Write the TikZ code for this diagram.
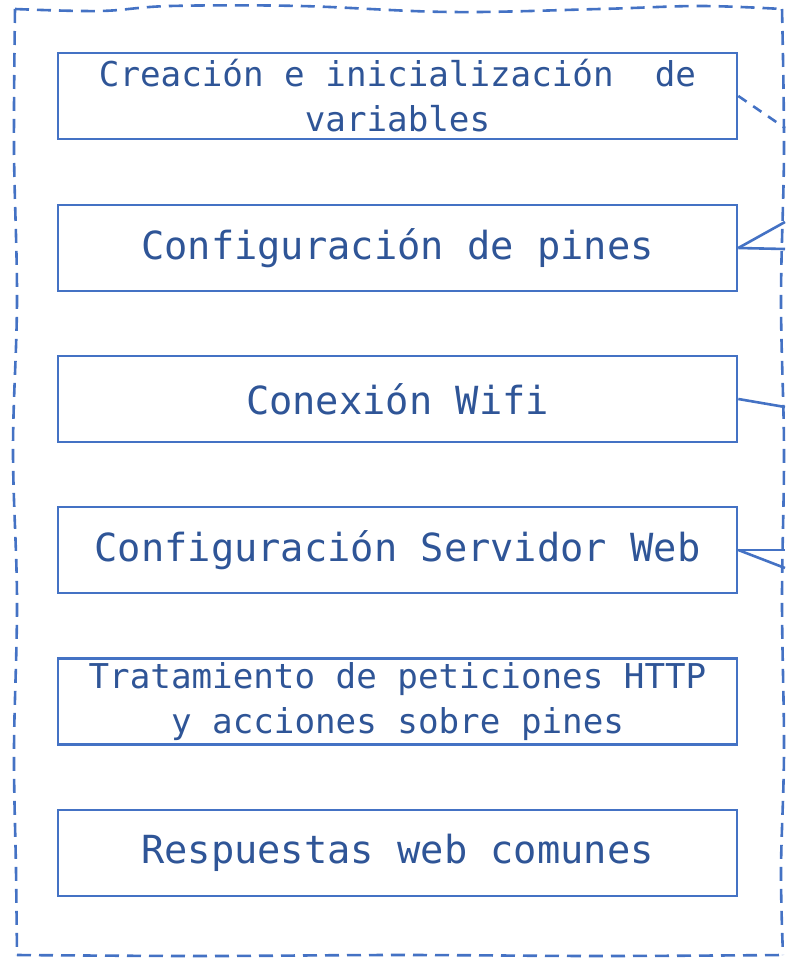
\documentclass[tikz,border=0pt]{standalone}
\usepackage{fontspec}
\setmonofont{DejaVu Sans Mono}
\definecolor{boxline}{HTML}{4472C4}
\definecolor{boxtext}{HTML}{2F5597}
\begin{document}
\begin{tikzpicture}[x=1pt,y=-1pt,
  stage/.style={draw=boxline, line width=2.6pt, fill=white, text=boxtext,
    minimum width=679pt, minimum height=86pt, inner sep=0pt, align=center,
    font=\ttfamily\fontsize{38.7}{46}\selectfont},
  smallstage/.style={stage, font=\ttfamily\fontsize{34.2}{45}\selectfont},
  link/.style={draw=boxline, line width=2.6pt},
  frame/.style={draw=boxline, line width=2.6pt, dash pattern=on 14pt off 8pt}]
\useasboundingbox (0,0) rectangle (785,958);

% wavy dashed enclosure
\draw[frame] plot[smooth, tension=0.6] coordinates {
  (15,9) (100,11) (170,6) (300,6) (450,12) (600,9) (700,6) (782,9)};
\draw[frame] plot[smooth, tension=0.6] coordinates {
  (15,9) (14,150) (17,300) (13,450) (17,600) (14,750) (16,870) (17,955)};
\draw[frame] plot[smooth, tension=0.6] coordinates {
  (17,955) (200,956) (400,955) (600,956) (783,955)};
\draw[frame] plot[smooth, tension=0.6] coordinates {
  (782,9) (784,150) (781,300) (784,450) (782,600) (784,750) (781,870) (783,955)};

% stages
\node[smallstage] (s1) at (397.5,96) {Creación e inicialización\ \ de\\variables};
\node[stage] (s2) at (397.5,248) {Configuración de pines};
\node[stage] (s3) at (397.5,399) {Conexión Wifi};
\node[stage] (s4) at (397.5,550) {Configuración Servidor Web};
\node[smallstage] (s5) at (397.5,701.5) {Tratamiento de peticiones HTTP\\y acciones sobre pines};
\node[stage] (s6) at (397.5,853) {Respuestas web comunes};

% outgoing connectors
\coordinate (e1) at (785,128);
\coordinate (e2a) at (785,222);
\coordinate (e2b) at (785,249);
\coordinate (e3) at (785,407);
\coordinate (e4a) at (785,550);
\coordinate (e4b) at (785,568);
\draw[link, dash pattern=on 10pt off 8pt] (s1.east) -- (e1);
\draw[link] (s2.east) -- (e2a);
\draw[link] (s2.east) -- (e2b);
\draw[link] (s3.east) -- (e3);
\draw[link] (s4.east) -- (e4a);
\draw[link] (s4.east) -- (e4b);
\end{tikzpicture}
\end{document}
